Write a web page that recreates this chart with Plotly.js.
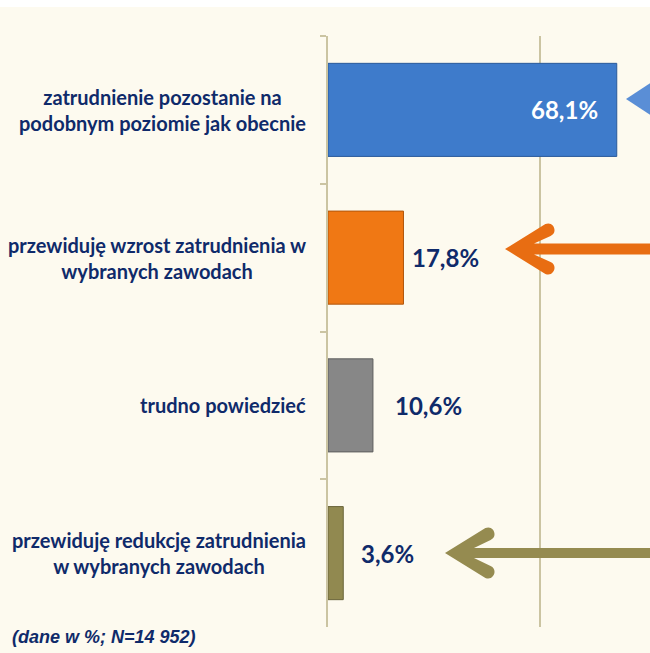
<!DOCTYPE html>
<html>
<head>
<meta charset="utf-8">
<script src="https://cdn.plot.ly/plotly-3.0.1.min.js"></script>
<style>
  html, body { margin: 0; padding: 0; background: #ffffff; }
  #chart { position: absolute; left: 0; top: 7px; width: 650px; height: 646px; }
</style>
</head>
<body>
<div id="chart"></div>
<script>
// ---- data ----
const categories = [
  'zatrudnienie pozostanie na<br>podobnym poziomie jak obecnie',
  'przewiduję wzrost zatrudnienia w<br>wybranych zawodach',
  'trudno powiedzieć',
  'przewiduję redukcję zatrudnienia<br>w wybranych zawodach'
];
const values = [68.1, 17.8, 10.6, 3.6];
const valueLabels = ['68,1%', '17,8%', '10,6%', '3,6%'];
const barColors = ['#3E7BCB', '#F07814', '#878787', '#918950'];
const barEdges = ['#2A5A9A', '#B0560C', '#5E5E5E', '#6A643A'];
const footnote = '(dane w %; N=14 952)';

// ---- style helpers ----
const NAVY = '#0F2A6A';
const TAN = '#CBC4A2';
const CREAM = '#FDFAEF';
const labelFont = 'Lato, "Open Sans", sans-serif';

// label placement (pixels relative to bar end)
const labelShift = [-17, 7, 20, 16];
const labelInside = [true, false, false, false];

const plotLeft = 328, plotWidth = 322, plotTop = 29, plotHeight = 591;
const xMax = 75.94;
const px = (x) => (x - plotLeft) / plotWidth;                  // page x -> paper x
const py = (y) => (plotTop + 7 + plotHeight - y) / plotHeight; // page y -> paper y

const trace = {
  type: 'bar',
  orientation: 'h',
  y: categories,
  x: values,
  marker: { color: barColors, line: { color: barEdges, width: 1 } },
  hoverinfo: 'none',
  showlegend: false
};

const annotations = [];
categories.forEach((c, i) => {
  annotations.push({
    x: px(308), xref: 'paper', y: c, yref: 'y',
    text: '<b>' + c + '</b>', showarrow: false,
    xanchor: 'right', yanchor: 'middle', align: 'center',
    font: { family: labelFont, size: 20, color: NAVY }
  });
  annotations.push({
    x: values[i], xref: 'x', y: c, yref: 'y',
    text: '<b>' + valueLabels[i] + '</b>', showarrow: false,
    xanchor: labelInside[i] ? 'right' : 'left', yanchor: 'middle',
    xshift: labelShift[i],
    font: { family: labelFont, size: 24, color: labelInside[i] ? '#FFFFFF' : NAVY }
  });
});
annotations.push({
  x: px(10), xref: 'paper', y: py(637), yref: 'paper',
  text: '<b><i>' + footnote + '</i></b>', showarrow: false,
  xanchor: 'left', yanchor: 'middle',
  font: { family: '"Liberation Sans", Arial, sans-serif', size: 18, color: NAVY }
});

// decorative arrows on the right (paper coords)
function pt(p) { return px(p[0]) + ',' + py(p[1]); }
function arrowPath(tx, ty, halfShaft) {
  const endX = 660 - tx; // shaft runs off the right edge
  const segs = [
    ['M', [0, 0]],
    ['L', [40.4, -24.9]],
    ['C', [48.3, -28.4], [53.5, -16.6], [45.6, -13.1]],
    ['L', [29, -halfShaft]],
    ['L', [endX, -halfShaft]],
    ['L', [endX, halfShaft]],
    ['L', [29, halfShaft]],
    ['L', [45.6, 13.1]],
    ['C', [53.5, 16.6], [48.3, 28.4], [40.4, 24.9]],
  ];
  return segs.map(seg => seg[0] + ' ' + seg.slice(1).map(p => pt([tx + p[0], ty + p[1]])).join(' ')).join(' ') + ' Z';
}
const shapes = [
  { type: 'path', xref: 'paper', yref: 'paper',
    path: 'M ' + pt([626, 99]) + ' L ' + pt([652, 82]) + ' L ' + pt([652, 116]) + ' Z',
    fillcolor: '#5A8ED6', line: { width: 0 } },
  { type: 'path', xref: 'paper', yref: 'paper',
    path: arrowPath(505, 249, 5.5),
    fillcolor: '#E86D12', line: { width: 0 } },
  { type: 'path', xref: 'paper', yref: 'paper',
    path: arrowPath(445, 553, 5),
    fillcolor: '#958B50', line: { width: 0 } }
];

const layout = {
  width: 650, height: 646,
  margin: { l: plotLeft, r: 0, t: plotTop, b: 646 - plotTop - plotHeight, pad: 0 },
  paper_bgcolor: CREAM, plot_bgcolor: CREAM,
  bargap: 0.37,
  xaxis: {
    range: [0, xMax], tickvals: [50], showticklabels: false, ticks: '',
    showgrid: true, gridcolor: TAN, gridwidth: 1.5, zeroline: false, showline: false,
    fixedrange: true
  },
  yaxis: {
    type: 'category', categoryorder: 'array', categoryarray: categories,
    autorange: 'reversed', showticklabels: false,
    ticks: 'outside', tickson: 'boundaries', ticklen: 6, tickwidth: 2, tickcolor: TAN,
    showline: true, linecolor: TAN, linewidth: 2, showgrid: false, zeroline: false,
    fixedrange: true
  },
  annotations: annotations,
  shapes: shapes
};

Plotly.newPlot('chart', [trace], layout, { displayModeBar: false, staticPlot: true });
</script>
</body>
</html>
